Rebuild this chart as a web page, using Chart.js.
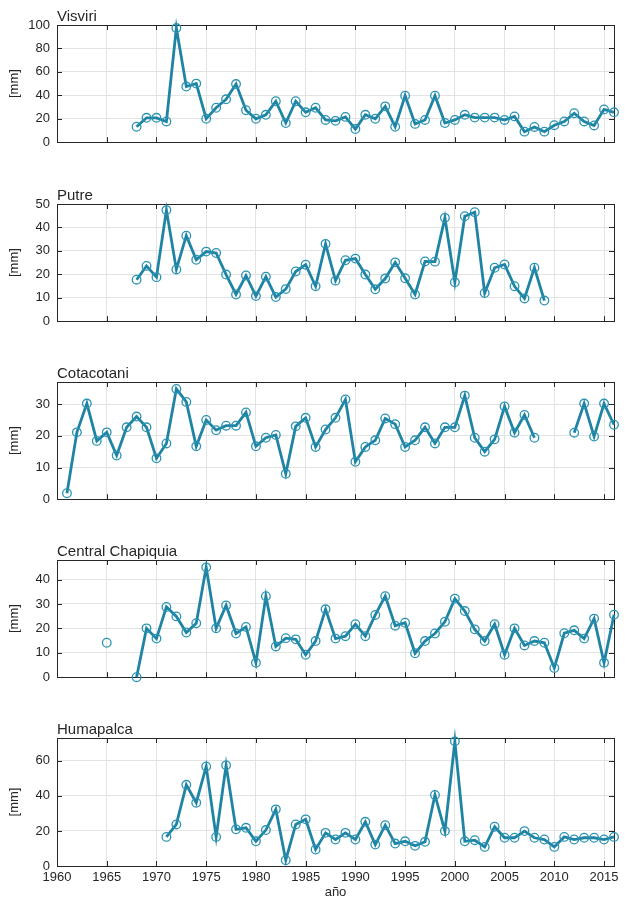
<!DOCTYPE html>
<html>
<head>
<meta charset="utf-8">
<script src="https://cdn.jsdelivr.net/npm/chart.js@4.4.1/dist/chart.umd.min.js"></script>
<style>
  html, body { margin: 0; padding: 0; background: #ffffff; }
  body { width: 633px; height: 900px; position: relative; overflow: hidden; }
  canvas { position: absolute; left: 0; }
</style>
</head>
<body>
<canvas id="c0"></canvas>
<canvas id="c1"></canvas>
<canvas id="c2"></canvas>
<canvas id="c3"></canvas>
<canvas id="c4"></canvas>
<script>
// ---------------- data ----------------
const stationNames = ['Visviri', 'Putre', 'Cotacotani', 'Central Chapiquia', 'Humapalca'];
const xTicks = [1960, 1965, 1970, 1975, 1980, 1985, 1990, 1995, 2000, 2005, 2010, 2015];

const visviriStart = 1968;
const visviriValues = [13.2, 20.8, 20.8, 17.7, 97.4, 47.5, 50, 20, 29.4, 36.6,
  49.6, 27.3, 20, 23.4, 35, 16.4, 35, 25.5, 29.4, 19,
  18.2, 21.6, 11.2, 23.4, 20, 30.6, 13.2, 39.7, 15.6, 19,
  39.7, 16.4, 19, 23.4, 21, 21, 21, 19, 22, 9,
  13, 9, 14.5, 17.7, 24.7, 17.7, 14.3, 28, 25.5];

const putreStart = 1968;
const putreValues = [17.7, 23.6, 18.8, 47.4, 22.1, 36.5, 26.2, 29.7, 29.1, 19.9,
  11.4, 19.5, 10.7, 19, 10.3, 13.7, 21.2, 24.1, 14.9, 33,
  17.3, 26, 26.7, 19.9, 13.6, 18.2, 25.1, 18.3, 11.4, 25.5,
  25.4, 44.1, 16.6, 44.8, 46.5, 12, 22.8, 24.2, 14.9, 9.7,
  22.8, 8.8];

const cotacotaniStart = 1961;
const cotacotaniValues = [1.9, 21.1, 30.2, 18.4, 21.1, 13.8, 22.7, 26.1, 22.7, 12.9,
  17.6, 34.8, 30.7, 16.7, 25, 21.8, 23.2, 23.2, 27.4, 16.7,
  19.4, 20.3, 8, 23, 25.7, 16.5, 22, 25.7, 31.5, 11.8,
  16.5, 18.6, 25.5, 23.7, 16.5, 18.6, 22.7, 17.6, 22.7, 22.7,
  32.7, 19.4, 15, 18.9, 29.3, 21, 26.6, 19.4, null, null,
  null, 21, 30.2, 19.8, 30.2, 23.5];

const chapiquiaStart = 1965;
const chapiquiaValues = [14.1, null, null, 0, 20, 15.8,
  28.8, 24.9, 18.3, 22.1, 45, 20, 29.4, 17.9, 20.6, 5.9,
  33.2, 12.6, 16, 15.5, 9.2, 14.8, 27.8, 15.8, 16.8, 21.7,
  16.8, 25.5, 33.2, 21.1, 22.3, 9.8, 14.8, 17.9, 22.7, 32.2,
  27.1, 19.6, 14.8, 21.7, 9.2, 20, 13, 14.8, 14.1, 3.8,
  18, 19.2, 15.8, 24, 5.9, 25.6];

const humapalcaStart = 1971;
const humapalcaValues = [16.6, 23.7, 46.3, 36.1, 56.8, 16.6, 57.4, 20.9, 21.8, 14.1,
  20.5, 32.3, 3.3, 23.7, 26.6, 9.4, 18.9, 15.1, 18.9, 15.1,
  25.2, 12.2, 23.3, 12.8, 14.1, 11.5, 13.8, 40.5, 19.9, 71.1,
  14.1, 14.7, 10.9, 22.4, 16.1, 16.1, 19.9, 16.1, 15.1, 10.9,
  16.6, 15.1, 16.1, 16.1, 15.1, 16.6];

const yMax = [100, 50, 37, 48, 73];
const yStep = [20, 10, 10, 10, 20];

// ---------------- layout ----------------
const FONT = "'Liberation Sans', Arial, Helvetica, sans-serif";
const TEXT = '#262626';
const LINE = '#1f84a4';
const PLOT_LEFT = 57, PLOT_RIGHT = 614, PLOT_H = 128, TITLE_SPACE = 30;
const plotTops = [25, 204, 382, 560, 738];

const starts = [visviriStart, putreStart, cotacotaniStart, chapiquiaStart, humapalcaStart];
const valueLists = [visviriValues, putreValues, cotacotaniValues, chapiquiaValues, humapalcaValues];

const framePlugin = {
  id: 'frame',
  beforeDatasetsDraw(chart) {
    const {ctx, chartArea: a, scales} = chart;
    ctx.save();
    ctx.strokeStyle = '#262626';
    ctx.lineWidth = 1;
    const tl = 5;
    ctx.beginPath();
    scales.x.ticks.forEach(t => {
      const px = Math.round(scales.x.getPixelForValue(t.value)) + 0.5;
      ctx.moveTo(px, a.bottom); ctx.lineTo(px, a.bottom - tl);
      ctx.moveTo(px, a.top); ctx.lineTo(px, a.top + tl);
    });
    scales.y.ticks.forEach(t => {
      const py = Math.round(scales.y.getPixelForValue(t.value)) + 0.5;
      ctx.moveTo(a.left, py); ctx.lineTo(a.left + tl, py);
      ctx.moveTo(a.right, py); ctx.lineTo(a.right - tl, py);
    });
    ctx.stroke();
    ctx.strokeRect(Math.round(a.left) + 0.5, Math.round(a.top) + 0.5,
      Math.round(a.right - a.left), Math.round(a.bottom - a.top));
    ctx.restore();
  },
  afterDraw(chart) {
    const {ctx, chartArea: a} = chart;
    const title = chart.options.plugins.frame.title;
    ctx.save();
    ctx.fillStyle = TEXT;
    ctx.font = '15px ' + FONT;
    ctx.textAlign = 'left';
    ctx.textBaseline = 'alphabetic';
    ctx.fillText(title, a.left, a.top - 4);
    ctx.restore();
  }
};

for (let i = 0; i < 5; i++) {
  const last = (i === 4);
  const canvas = document.getElementById('c' + i);
  const top = plotTops[i] - TITLE_SPACE;
  const height = last ? (900 - top) : (TITLE_SPACE + PLOT_H + 4);
  canvas.width = 633; canvas.height = height;
  canvas.style.top = top + 'px';
  canvas.style.width = '633px'; canvas.style.height = height + 'px';

  const pts = valueLists[i].map((v, k) => ({x: starts[i] + k, y: v}));

  new Chart(canvas, {
    type: 'line',
    data: {
      datasets: [{
        label: stationNames[i],
        data: pts,
        borderColor: LINE,
        borderWidth: 2.8,
        borderJoinStyle: 'miter',
        pointStyle: 'circle',
        pointRadius: 4.3,
        pointBorderWidth: 1.3,
        pointBorderColor: '#2a93b3',
        pointBackgroundColor: 'rgba(0,0,0,0)',
        spanGaps: false,
        tension: 0,
        clip: false
      }]
    },
    options: {
      responsive: false,
      animation: false,
      devicePixelRatio: 1,
      layout: { padding: { top: TITLE_SPACE, right: 633 - PLOT_RIGHT, bottom: last ? 0 : 4, left: 0 } },
      plugins: {
        legend: { display: false },
        tooltip: { enabled: false },
        frame: { title: stationNames[i] }
      },
      scales: {
        x: {
          type: 'linear',
          min: 1960, max: 2016,
          afterBuildTicks: s => { s.ticks = xTicks.map(v => ({value: v})); },
          afterFit: s => { s.height = last ? (900 - top) - TITLE_SPACE - PLOT_H : 0; },
          grid: { color: '#e3e3e3', lineWidth: 1, drawTicks: false },
          border: { display: false },
          ticks: {
            display: last,
            padding: 4,
            maxRotation: 0,
            autoSkip: false,
            color: TEXT,
            font: { family: FONT, size: 13 },
            callback: v => String(v)
          },
          title: {
            display: last,
            text: 'año',
            color: TEXT,
            font: { family: FONT, size: 13 },
            padding: { top: 0, bottom: 0 }
          }
        },
        y: {
          type: 'linear',
          min: 0, max: yMax[i],
          afterFit: s => { s.width = PLOT_LEFT; },
          grid: { color: '#e3e3e3', lineWidth: 1, drawTicks: false },
          border: { display: false },
          ticks: {
            stepSize: yStep[i],
            includeBounds: false,
            padding: 7,
            color: TEXT,
            font: { family: FONT, size: 13 },
            callback: v => String(v)
          },
          title: {
            display: true,
            text: '[mm]',
            color: TEXT,
            font: { family: FONT, size: 13 },
            padding: { top: 7, bottom: 0 }
          }
        }
      }
    },
    plugins: [framePlugin]
  });
}
</script>
</body>
</html>
